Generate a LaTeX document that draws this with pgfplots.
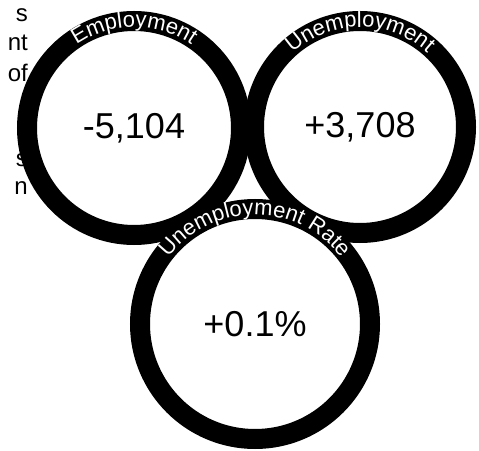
\documentclass[border=0pt]{standalone}
\usepackage{fontspec}
\setmainfont{Liberation Sans}
\usepackage{pgfplots}
\pgfplotsset{compat=1.18}
\usetikzlibrary{decorations.text}

\begin{document}
\begin{tikzpicture}
\begin{axis}[
  width=479pt, height=450pt, scale only axis,
  xmin=0, xmax=479, ymin=0, ymax=450,
  hide axis, clip=false,
  nodes near coords, point meta=explicit symbolic,
  nodes near coords align={center},
  every node near coord/.append style={font=\fontsize{36}{36}\selectfont, text=black},
]
% rings: centre of each circle, value in the middle
\addplot[only marks, mark=*, mark size=107pt,
  mark options={line width=20pt, draw=black, fill=white}]
  coordinates {(134,322) [{-5,104}]};
\addplot[only marks, mark=*, mark size=106pt,
  mark options={line width=20pt, draw=black, fill=white}]
  coordinates {(360,323) [{+3,708}]};
\addplot[only marks, mark=*, mark size=115pt,
  mark options={line width=20pt, draw=black, fill=white}]
  coordinates {(255,126) [{+0.1\%}]};

\coordinate (ll) at (axis cs:0,0);
\coordinate (ur) at (axis cs:479,450);
\coordinate (a1) at (axis cs:33,322);
\coordinate (a2) at (axis cs:260,323);
\coordinate (a3) at (axis cs:146,126);

% cut-off paragraph on the left
\begin{scope}[every node/.style={anchor=base east, inner sep=0pt, font=\fontsize{24}{24}\selectfont}]
\node at (axis cs:28,428) {s};
\node at (axis cs:28,399) {nt};
\node at (axis cs:28,368) {of};
\node at (axis cs:28,283) {s};
\node at (axis cs:28,255) {n};
\end{scope}
\end{axis}

% labels along the rings
\path[decorate, decoration={text along path, text align=center, text color=white,
  text={|\fontsize{22}{22}\selectfont|Employment}}]
  (a1) arc[start angle=180, end angle=0, radius=101pt];
\path[decorate, decoration={text along path, text align=center, text color=white,
  text={|\fontsize{22}{22}\selectfont|Unemployment}}]
  (a2) arc[start angle=180, end angle=0, radius=100pt];
\path[decorate, decoration={text along path, text align=center, text color=white,
  text={|\fontsize{22}{22}\selectfont|Unemployment Rate}}]
  (a3) arc[start angle=180, end angle=0, radius=109pt];

\pgfresetboundingbox
\useasboundingbox (ll) rectangle (ur);
\end{tikzpicture}
\end{document}
